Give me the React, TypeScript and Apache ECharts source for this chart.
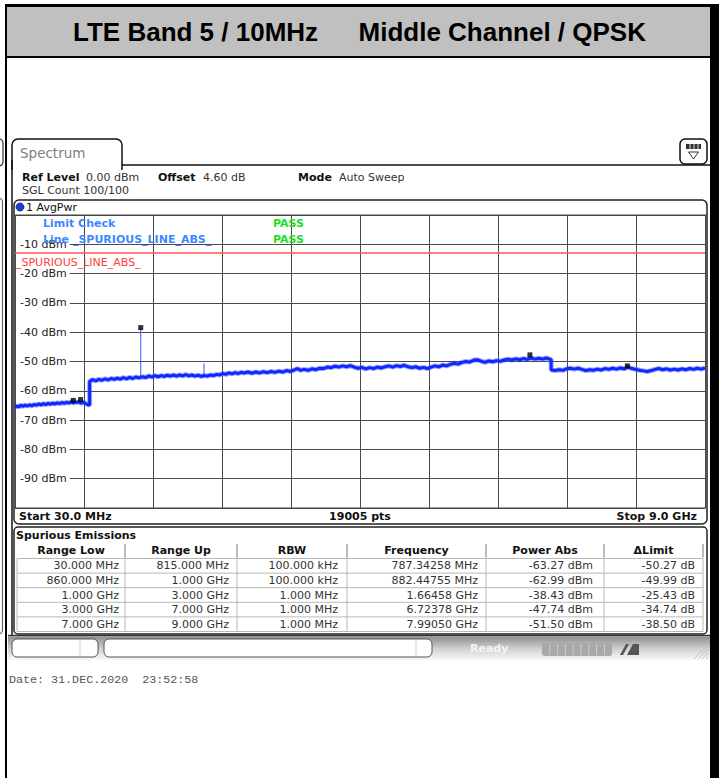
import React, { useEffect, useRef } from 'react';
import * as echarts from 'echarts';

// ---- Data ----
const titleLeft = 'LTE Band 5 / 10MHz';
const titleRight = 'Middle Channel / QPSK';

const yTickValues = [-90, -80, -70, -60, -50, -40, -30, -20, -10];

// Trace segments (frequency MHz, level dBm)
const trace30to1000: [number, number][] = [
  [30, -65.6], [55, -65.2], [80, -65.5], [105, -64.9], [130, -65.3], [160, -64.9], [190, -65.2],
  [220, -64.8], [250, -65.1], [280, -64.7], [310, -64.9], [340, -64.5], [370, -64.8], [400, -64.4],
  [430, -64.7], [460, -64.3], [490, -64.6], [520, -64.2], [550, -64.5], [580, -64.1], [610, -64.4],
  [640, -64.0], [670, -64.3], [700, -63.9], [730, -64.2], [760, -63.8], [790, -64.1], [815, -63.9],
  [860, -63.8], [890, -64.2], [920, -63.9], [950, -64.4], [975, -64.7], [1000, -64.9],
];
const trace1000to3000: [number, number][] = [
  [1000, -56.8], [1040, -56.2], [1080, -56.6], [1120, -56.1], [1160, -56.4], [1200, -55.9], [1240, -56.3],
  [1280, -55.8], [1320, -56.1], [1360, -55.7], [1400, -56.0], [1440, -55.5], [1480, -55.9], [1520, -55.4],
  [1560, -55.8], [1600, -55.3], [1640, -55.6], [1690, -55.2], [1730, -55.5], [1770, -54.9], [1810, -55.3],
  [1850, -54.8], [1890, -55.2], [1930, -54.8], [1970, -55.1], [2010, -54.7], [2050, -55.0], [2090, -54.6],
  [2130, -55.0], [2170, -54.6], [2210, -54.9], [2250, -54.5], [2290, -54.9], [2330, -54.6], [2370, -55.0],
  [2410, -54.7], [2450, -55.1], [2490, -54.8], [2530, -55.0], [2570, -54.6], [2610, -54.8], [2650, -54.4],
  [2690, -54.6], [2730, -54.1], [2770, -54.4], [2810, -53.9], [2850, -54.2], [2890, -53.8], [2930, -54.1],
  [2970, -53.7],
];
const trace3000to7000: [number, number][] = [
  [3010, -53.9], [3060, -53.6], [3110, -54.0], [3160, -53.6], [3210, -53.9], [3260, -53.5], [3310, -53.8],
  [3360, -53.4], [3410, -53.7], [3460, -53.3], [3510, -53.6], [3560, -53.1], [3610, -53.4], [3660, -52.9],
  [3700, -52.4], [3740, -53.0], [3790, -52.7], [3840, -53.0], [3890, -52.5], [3940, -52.8], [3990, -52.3],
  [4040, -52.4], [4090, -51.9], [4140, -52.1], [4190, -51.6], [4240, -51.9], [4290, -51.5], [4340, -51.8],
  [4390, -51.4], [4440, -51.9], [4490, -52.3], [4540, -52.0], [4590, -52.5], [4640, -52.1], [4690, -52.4],
  [4740, -51.9], [4790, -52.2], [4840, -51.8], [4890, -51.5], [4940, -51.9], [4990, -51.4], [5040, -51.7],
  [5090, -51.3], [5140, -51.8], [5190, -52.1], [5240, -51.8], [5290, -52.3], [5340, -52.0], [5390, -52.4],
  [5440, -51.9], [5490, -51.5], [5540, -51.8], [5590, -51.2], [5640, -51.5], [5690, -51.0], [5740, -50.6],
  [5790, -50.9], [5840, -50.3], [5890, -50.0], [5940, -50.2], [5990, -49.6], [6040, -49.4], [6090, -49.9],
  [6140, -50.3], [6190, -49.8], [6240, -50.1], [6290, -49.7], [6340, -49.9], [6390, -49.5], [6440, -49.2],
  [6490, -49.5], [6540, -49.1], [6590, -49.4], [6640, -49.0], [6690, -49.3], [6740, -48.8], [6790, -49.2],
  [6840, -48.9], [6890, -49.2], [6940, -48.8], [6980, -49.2], [7000, -49.3],
];
const trace7000to9000: [number, number][] = [
  [7000, -52.8], [7050, -53.1], [7100, -52.8], [7150, -53.0], [7200, -52.5], [7250, -52.3], [7300, -52.6],
  [7350, -52.3], [7400, -52.7], [7450, -53.1], [7500, -52.8], [7550, -53.0], [7600, -52.6], [7650, -52.9],
  [7700, -52.4], [7750, -52.7], [7800, -52.3], [7850, -52.6], [7900, -52.2], [7950, -52.5], [8000, -51.9],
  [8050, -52.4], [8100, -52.7], [8150, -53.0], [8200, -53.2], [8250, -53.4], [8300, -53.1], [8350, -52.7],
  [8400, -52.4], [8450, -52.8], [8500, -52.5], [8550, -52.9], [8600, -52.6], [8650, -52.9], [8700, -52.5],
  [8750, -52.8], [8800, -52.4], [8850, -52.7], [8900, -52.3], [8950, -52.6], [9000, -52.2],
];

// Narrow spurs (frequency MHz, base dBm, peak dBm)
const spurFreq = [1664.58, 2487];
const spurBase = [-55.5, -54.9];
const spurPeak = [-38.43, -50.6];

// Limit line
const limitFreq = [30, 9000];
const limitLevel = [-13, -13];

// Markers (peaks from the table)
const markerFreqMHz = [787.34258, 882.44755, 1664.58, 6723.78, 7990.5];
const markerPowerDbm = [-63.27, -62.99, -38.43, -47.74, -51.5];

// Table
const tableHeaders = ['Range Low', 'Range Up', 'RBW', 'Frequency', 'Power Abs', '\u0394Limit'];
const rangeLow = ['30.000 MHz', '860.000 MHz', '1.000 GHz', '3.000 GHz', '7.000 GHz'];
const rangeUp = ['815.000 MHz', '1.000 GHz', '3.000 GHz', '7.000 GHz', '9.000 GHz'];
const rbw = ['100.000 kHz', '100.000 kHz', '1.000 MHz', '1.000 MHz', '1.000 MHz'];
const peakFreq = ['787.34258 MHz', '882.44755 MHz', '1.66458 GHz', '6.72378 GHz', '7.99050 GHz'];
const powerAbs = ['-63.27 dBm', '-62.99 dBm', '-38.43 dBm', '-47.74 dBm', '-51.50 dBm'];
const deltaLimit = ['-50.27 dB', '-49.99 dB', '-25.43 dB', '-34.74 dB', '-38.50 dB'];

const SANS = '"DejaVu Sans", Verdana, sans-serif';

function txt(x: number, y: number, text: string, font: string, fill = '#111', align = 'left', z = 10) {
  return { type: 'text', x, y, z, silent: true, style: { text, font, fill, textAlign: align, textVerticalAlign: 'middle' } };
}
function rect(x: number, y: number, w: number, h: number, style: any, r: any = 0, z = 1) {
  return { type: 'rect', z, silent: true, shape: { x, y, width: w, height: h, r }, style };
}
function ln(x1: number, y1: number, x2: number, y2: number, stroke: string, lw = 1, z = 5) {
  return { type: 'line', z, silent: true, shape: { x1, y1, x2, y2 }, style: { stroke, lineWidth: lw } };
}

export default function App() {
  const ref = useRef<HTMLDivElement>(null);
  useEffect(() => {
    document.body.style.margin = '0';
    const chart = echarts.init(ref.current!, null, { renderer: 'svg' });

    const g: any[] = [];
    // Document frame / header
    g.push(rect(5, 5, 708, 52, { fill: '#c0c0c0' }, 0, 1));
    g.push(rect(5, 4, 710, 3, { fill: '#000' }, 0, 2));
    g.push(rect(5, 56, 710, 2, { fill: '#000' }, 0, 2));
    g.push(rect(5, 4, 2, 774, { fill: '#000' }, 0, 2));
    g.push(rect(710, 4, 9, 774, { fill: '#000' }, 0, 2));
    g.push(txt(73, 32, titleLeft, 'bold 26px "Liberation Sans", Arial, sans-serif', '#000', 'left', 3));
    g.push(txt(646, 32, titleRight, 'bold 26px "Liberation Sans", Arial, sans-serif', '#000', 'right', 3));

    // Left neighbouring panel edges
    g.push(rect(-10, 139, 13, 27, { fill: 'none', stroke: '#333', lineWidth: 1.2 }, 4, 2));
    g.push(rect(-10, 198, 12.5, 436, { fill: 'none', stroke: '#666', lineWidth: 1.2 }, 4, 2));

    // Spectrum tab + window border
    g.push(rect(12, 139, 110, 30, { fill: '#fff', stroke: '#111', lineWidth: 1.5 }, [6, 6, 0, 0], 3));
    g.push(rect(13, 164, 108, 6, { fill: '#fff' }, 0, 4));
    g.push(ln(12, 160, 12, 636, '#111', 1.5, 4));
    g.push(ln(121.5, 165, 710, 165, '#111', 1.5, 4));
    g.push(txt(20, 153, 'Spectrum', `13.5px ${SANS}`, '#808080', 'left', 5));

    // Top-right icon
    g.push(rect(680, 139, 27, 25, { fill: '#fff', stroke: '#111', lineWidth: 1.5 }, 5, 5));
    g.push(rect(686, 144, 15, 5, { fill: '#333' }, 0, 6));
    g.push(ln(690, 144, 690, 149, '#ddd', 1, 7));
    g.push(ln(694, 144, 694, 149, '#ddd', 1, 7));
    g.push(ln(698, 144, 698, 149, '#ddd', 1, 7));
    g.push({ type: 'polygon', z: 6, silent: true, shape: { points: [[688.5, 152], [698.5, 152], [693.5, 159]] }, style: { fill: 'none', stroke: '#333', lineWidth: 1 } });

    // Info lines
    const B = `bold 11px ${SANS}`;
    const N = `11px ${SANS}`;
    g.push(txt(22, 177, 'Ref Level', B, '#111'));
    g.push(txt(86, 177, '0.00 dBm', N, '#333'));
    g.push(txt(158, 177, 'Offset', B, '#111'));
    g.push(txt(203, 177, '4.60 dB', N, '#333'));
    g.push(txt(298, 177, 'Mode', B, '#111'));
    g.push(txt(339, 177, 'Auto Sweep', N, '#333'));
    g.push(txt(22, 190, 'SGL Count 100/100', N, '#333'));

    // Plot frame
    g.push(rect(14, 200, 693, 324, { fill: 'none', stroke: '#222', lineWidth: 1.5 }, 5, 60));
    g.push({ type: 'circle', z: 61, silent: true, shape: { cx: 20, cy: 207, r: 4 }, style: { fill: '#1f3fd0', stroke: '#0a1a70', lineWidth: 0.8 } });
    g.push(txt(26, 207, '1 AvgPwr', N, '#111', 'left', 61));
    g.push(ln(14, 215, 707, 215, '#444', 1, 60));
    g.push(ln(14, 508, 707, 508, '#444', 1, 60));

    // Limit texts
    const LB = `bold 11px ${SANS}`;
    g.push(txt(43, 223, 'Limit Check', LB, '#3d88ff', 'left', 100));
    g.push(txt(43, 239, 'Line _SPURIOUS_LINE_ABS_', LB, '#3d88ff', 'left', 100));
    g.push(txt(273, 223, 'PASS', LB, '#22dd22', 'left', 100));
    g.push(txt(273, 239, 'PASS', LB, '#22dd22', 'left', 100));
    g.push(txt(16, 262, '_SPURIOUS_LINE_ABS_', `11px ${SANS}`, '#ff4040', 'left', 100));

    // Bottom row of plot
    g.push(txt(19, 516, 'Start 30.0 MHz', B, '#111', 'left', 61));
    g.push(txt(360, 516, '19005 pts', B, '#111', 'center', 61));
    g.push(txt(697, 516, 'Stop 9.0 GHz', B, '#111', 'right', 61));

    // Table frame
    g.push(rect(14, 527, 693, 107, { fill: '#fff', stroke: '#222', lineWidth: 1.5 }, 4, 10));
    g.push(txt(16, 535, 'Spurious Emissions', B, '#111', 'left', 12));
    const colEdges = [17, 125, 237, 347, 486, 604, 703];
    const headerTop = 543;
    const headerBottom = 558.5;
    const rowH = 14.6;
    const nRows = rangeLow.length;
    for (let i = 0; i < tableHeaders.length; i++) {
      const cx = (colEdges[i] + colEdges[i + 1]) / 2;
      g.push(txt(cx, 550.5, tableHeaders[i], B, '#111', 'center', 12));
      if (i > 0) g.push(ln(colEdges[i], headerTop + 1, colEdges[i], headerBottom - 1, '#777', 1, 12));
    }
    g.push(ln(colEdges[6], headerTop + 1, colEdges[6], headerBottom - 1, '#777', 1, 12));
    const bodyBottom = headerBottom + rowH * nRows;
    for (let r = 0; r <= nRows; r++) {
      const y = headerBottom + r * rowH;
      g.push(ln(colEdges[0], y, colEdges[6], y, '#b8b8b8', 1, 11));
    }
    for (let c = 0; c < colEdges.length; c++) {
      g.push(ln(colEdges[c], headerBottom, colEdges[c], bodyBottom, '#b8b8b8', 1, 11));
    }
    const cols = [rangeLow, rangeUp, rbw, peakFreq, powerAbs, deltaLimit];
    const rightPad = [6, 8, 9, 8, 11, 8];
    for (let c = 0; c < cols.length; c++) {
      for (let r = 0; r < nRows; r++) {
        const y = headerBottom + r * rowH + rowH / 2;
        g.push(txt(colEdges[c + 1] - rightPad[c], y, cols[c][r], N, '#333', 'right', 12));
      }
    }
    g.push(ln(8, 635.5, 710, 635.5, '#333', 1.5, 12));

    // Status bar
    g.push(rect(8, 636.5, 702, 24, {
      fill: new echarts.graphic.LinearGradient(0, 0, 0, 1, [
        { offset: 0, color: '#8e8e8e' },
        { offset: 0.5, color: '#cfcfcf' },
        { offset: 1, color: '#fbfbfb' },
      ]),
    }, 0, 8));
    g.push(rect(12, 639, 86, 18, { fill: '#fff', stroke: '#555', lineWidth: 1 }, 5, 9));
    g.push(ln(80, 641, 80, 655, '#ccc', 1, 10));
    g.push(rect(104, 639, 328, 18, { fill: '#fff', stroke: '#555', lineWidth: 1 }, 5, 9));
    g.push(ln(416, 641, 416, 655, '#ccc', 1, 10));
    g.push(txt(470, 648.5, 'Ready', `bold 11px ${SANS}`, '#f4f4f4', 'left', 10));
    g.push(rect(542, 643, 70, 13, { fill: '#a9a9a9' }, 3, 9));
    for (let k = 1; k < 9; k++) g.push(ln(542 + k * 7.8, 644, 542 + k * 7.8, 655, '#d0d0d0', 1, 10));
    g.push({ type: 'polygon', z: 10, silent: true, shape: { points: [[620, 655], [626, 644], [629, 644], [623, 655]] }, style: { fill: '#555' } });
    g.push({ type: 'polygon', z: 10, silent: true, shape: { points: [[627, 655], [633, 644], [639, 644], [639, 655]] }, style: { fill: '#555' } });
    for (let k = 0; k < 4; k++) g.push(ln(694 + k * 4, 659, 708, 645 + k * 4, '#bbb', 0.8, 10));

    // Date
    g.push(txt(9, 680, 'Date: 31.DEC.2020  23:52:58', '11.7px "Liberation Mono", "DejaVu Sans Mono", monospace', '#555', 'left', 10));

    const trace = [...trace30to1000, ...trace1000to3000, ...trace3000to7000, ...trace7000to9000];

    const spurSeries = spurFreq.map((f, i) => ({
      type: 'line',
      xAxisIndex: 0,
      yAxisIndex: 0,
      data: [[f, spurBase[i]], [f, spurPeak[i]]],
      symbol: 'none',
      silent: true,
      z: 4,
      lineStyle: { color: '#3358ff', width: 1 },
    }));

    const option: any = {
      animation: false,
      backgroundColor: '#fff',
      grid: { left: 15, top: 215, width: 690, height: 293, containLabel: false },
      xAxis: [
        { type: 'value', min: 30, max: 9000, show: false, splitLine: { show: false } },
        {
          type: 'value', min: 0, max: 10, interval: 1, position: 'bottom',
          axisLine: { show: false }, axisTick: { show: false }, axisLabel: { show: false },
          splitLine: { show: true, lineStyle: { color: '#4a4a4a', width: 1 } },
        },
      ],
      yAxis: {
        type: 'value', min: -100, max: 0, interval: 10,
        axisLine: { show: false }, axisTick: { show: false },
        splitLine: { show: true, lineStyle: { color: '#4a4a4a', width: 1 } },
        axisLabel: {
          inside: true, margin: 1, align: 'left',
          formatter: (v: number) => (yTickValues.includes(v) ? `${v} dBm` : ''),
          color: '#222', fontSize: 11, fontFamily: SANS,
          backgroundColor: '#fff', padding: [0, 3, 0, 4],
        },
      },
      series: [
        {
          type: 'line', xAxisIndex: 0, data: limitFreq.map((f, i) => [f, limitLevel[i]]),
          symbol: 'none', silent: true, z: 3, lineStyle: { color: '#ff5555', width: 1.5 },
        },
        ...spurSeries,
        {
          type: 'line', xAxisIndex: 0, data: trace, symbol: 'none', silent: true, z: 4,
          lineStyle: { color: 'rgba(40,70,255,0.45)', width: 5 },
        },
        {
          type: 'line', xAxisIndex: 0, data: trace, symbol: 'none', silent: true, z: 5,
          lineStyle: { color: '#1028ff', width: 3 },
        },
        {
          type: 'scatter', xAxisIndex: 0, data: markerFreqMHz.map((f, i) => [f, markerPowerDbm[i]]),
          symbol: 'rect', symbolSize: 5, silent: true, z: 6, itemStyle: { color: '#000' },
        },
      ],
      graphic: { elements: g },
    };
    chart.setOption(option);
    return () => chart.dispose();
  }, []);
  return <div ref={ref} style={{ position: 'absolute', left: 0, top: 0, width: 719, height: 778, background: '#fff' }} />;
}
